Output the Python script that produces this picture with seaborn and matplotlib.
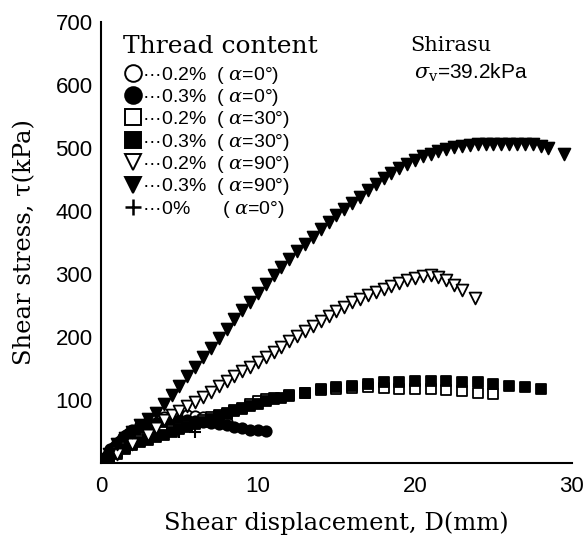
import matplotlib
matplotlib.use("Agg")
import matplotlib.pyplot as plt
from matplotlib.lines import Line2D
import seaborn as sns
import pandas as pd

# ---- data ----
x_c02_a0 = [0, 0.4, 0.8, 1.2, 1.6, 2.0, 2.5, 3.0, 3.5, 4.0, 4.5, 5.0, 5.5, 6.0, 6.5, 7.0, 7.5, 8.0]
y_c02_a0 = [0, 12, 25, 35, 44, 52, 60, 66, 70, 73, 75, 76, 76, 75, 73, 70, 68, 66]

x_c03_a0 = [0, 0.3, 0.6, 1.0, 1.4, 1.8, 2.2, 2.6, 3.0, 3.5, 4.0, 4.5, 5.0, 5.5, 6.0, 6.5, 7.0, 7.5, 8.0, 8.5, 9.0, 9.5, 10.0, 10.5]
y_c03_a0 = [0, 10, 22, 32, 41, 48, 53, 57, 60, 63, 65, 67, 68, 68, 67, 66, 64, 62, 60, 57, 55, 53, 52, 51]

x_c02_a30 = [0, 0.5, 1.0, 1.5, 2.0, 2.5, 3.0, 3.5, 4.0, 4.5, 5.0, 5.5, 6.0, 6.5, 7.0, 7.5, 8.0, 8.5, 9.0, 9.5, 10.0, 10.5, 11.0, 12.0, 13.0, 14.0, 15.0, 16.0, 17.0, 18.0, 19.0, 20.0, 21.0, 22.0, 23.0, 24.0, 25.0]
y_c02_a30 = [0, 10, 18, 25, 32, 37, 42, 46, 50, 53, 56, 59, 63, 68, 73, 77, 80, 84, 88, 93, 98, 101, 104, 108, 112, 116, 118, 119, 120, 119, 118, 118, 117, 116, 114, 112, 109]

x_c03_a30 = [0, 0.5, 1.0, 1.5, 2.0, 2.5, 3.0, 3.5, 4.0, 4.5, 5.0, 5.5, 6.0, 6.5, 7.0, 7.5, 8.0, 8.5, 9.0, 9.5, 10.0, 10.5, 11.0, 11.5, 12.0, 13.0, 14.0, 15.0, 16.0, 17.0, 18.0, 19.0, 20.0, 21.0, 22.0, 23.0, 24.0, 25.0, 26.0, 27.0, 28.0]
y_c03_a30 = [0, 8, 15, 22, 28, 33, 37, 41, 45, 50, 54, 58, 62, 66, 70, 74, 78, 82, 86, 90, 94, 98, 101, 104, 107, 112, 117, 120, 123, 126, 128, 129, 130, 130, 130, 129, 128, 126, 122, 120, 118]

x_c02_a90 = [0, 1.0, 2.0, 3.0, 3.5, 4.0, 4.5, 5.0, 5.5, 6.0, 6.5, 7.0, 7.5, 8.0, 8.5, 9.0, 9.5, 10.0, 10.5, 11.0, 11.5, 12.0, 12.5, 13.0, 13.5, 14.0, 14.5, 15.0, 15.5, 16.0, 16.5, 17.0, 17.5, 18.0, 18.5, 19.0, 19.5, 20.0, 20.5, 21.0, 21.5, 22.0, 22.5, 23.0, 23.8]
y_c02_a90 = [0, 15, 30, 45, 55, 68, 76, 82, 90, 97, 105, 113, 122, 130, 138, 146, 153, 160, 168, 176, 184, 193, 202, 210, 218, 226, 234, 242, 248, 255, 261, 266, 271, 276, 281, 286, 290, 294, 297, 299, 296, 290, 282, 275, 262]

x_c03_a90 = [0, 0.5, 1.0, 1.5, 2.0, 2.5, 3.0, 3.5, 4.0, 4.5, 5.0, 5.5, 6.0, 6.5, 7.0, 7.5, 8.0, 8.5, 9.0, 9.5, 10.0, 10.5, 11.0, 11.5, 12.0, 12.5, 13.0, 13.5, 14.0, 14.5, 15.0, 15.5, 16.0, 16.5, 17.0, 17.5, 18.0, 18.5, 19.0, 19.5, 20.0, 20.5, 21.0, 21.5, 22.0, 22.5, 23.0, 23.5, 24.0, 24.5, 25.0, 25.5, 26.0, 26.5, 27.0, 27.5, 28.0, 28.5, 29.5]
y_c03_a90 = [0, 15, 30, 40, 50, 60, 70, 80, 93, 108, 122, 138, 153, 168, 183, 198, 213, 228, 243, 256, 270, 285, 298, 311, 324, 336, 348, 359, 371, 382, 393, 403, 413, 423, 433, 443, 452, 460, 468, 475, 481, 487, 491, 495, 498, 501, 503, 505, 506, 506, 507, 507, 507, 507, 507, 506, 503, 500, 490]

x_c00_a0 = [0, 0.5, 1.0, 1.5, 2.0, 2.5, 3.0, 4.0, 5.0, 6.0]
y_c00_a0 = [0, 15, 25, 32, 38, 42, 45, 48, 50, 50]

legend_title = "Thread content"
legend_labels = ["···0.2%  ( $\\alpha$=0°)", "···0.3%  ( $\\alpha$=0°)",
                 "···0.2%  ( $\\alpha$=30°)", "···0.3%  ( $\\alpha$=30°)",
                 "···0.2%  ( $\\alpha$=90°)", "···0.3%  ( $\\alpha$=90°)",
                 "···0%      ( $\\alpha$=0°)"]

series = [
    (x_c02_a0, y_c02_a0, "o", "white", 7.5),
    (x_c03_a0, y_c03_a0, "o", "black", 7.5),
    (x_c02_a30, y_c02_a30, "s", "white", 7),
    (x_c03_a30, y_c03_a30, "s", "black", 7),
    (x_c02_a90, y_c02_a90, "v", "white", 8.5),
    (x_c03_a90, y_c03_a90, "v", "black", 8.5),
    (x_c00_a0, y_c00_a0, "+", "black", 8),
]

sns.set_style("white")
plt.rcParams['font.family'] = ['DejaVu Serif', 'DejaVu Sans']
plt.rcParams['mathtext.fontset'] = 'dejavuserif'
plt.rcParams['text.color'] = 'black'
plt.rcParams['axes.labelcolor'] = 'black'

fig = plt.figure(figsize=(5.85, 5.5), dpi=100)
ax = fig.add_axes([0.1726, 0.158, 0.805, 0.802])

draw_order = [6, 0, 1, 2, 3, 4, 5]
for i in draw_order:
    xs, ys, m, fc, ms = series[i]
    df = pd.DataFrame({"x": xs, "y": ys})
    if m == "+":
        sns.scatterplot(data=df, x="x", y="y", marker="+", color="black",
                        s=ms ** 2, linewidth=1.5, ax=ax, zorder=3)
    else:
        sns.scatterplot(data=df, x="x", y="y", marker=m, facecolor=fc,
                        edgecolor="black", s=ms ** 2, linewidth=1.3, ax=ax, zorder=3)

ax.set_xlim(0, 30)
ax.set_ylim(0, 700)
ax.set_xticks([0, 5, 10, 15, 20, 25, 30])
ax.set_xticklabels(["0", "", "10", "", "20", "", "30"])
ax.set_yticks([0, 100, 200, 300, 400, 500, 600, 700])
ax.set_yticklabels(["", "100", "200", "300", "400", "500", "600", "700"])
ax.tick_params(direction="in", length=4, width=1, colors="black", labelsize=16)
for lab in ax.get_xticklabels() + ax.get_yticklabels():
    lab.set_family(['Liberation Sans', 'DejaVu Sans'])
ax.tick_params(axis="x", pad=9)
ax.tick_params(axis="y", pad=6)

sns.despine(ax=ax)
for sp in ["left", "bottom"]:
    ax.spines[sp].set_color("black")
    ax.spines[sp].set_linewidth(1.5)

ax.set_xlabel("Shear displacement, D(mm)", fontsize=17.5, labelpad=11)
ax.set_ylabel("Shear stress, τ(kPa)", fontsize=17.5, labelpad=14)

handles = []
for xs, ys, m, fc, ms in series:
    if m == "+":
        handles.append(Line2D([], [], marker="+", color="black", linestyle="none",
                              markersize=12, markeredgewidth=1.8))
    else:
        handles.append(Line2D([], [], marker=m, markerfacecolor=fc, markeredgecolor="black",
                              linestyle="none", markersize=12, markeredgewidth=1.4))
leg = ax.legend(handles, legend_labels, title=legend_title, loc="upper left",
                bbox_to_anchor=(0.02, 1.0), frameon=False,
                prop={"family": ['Liberation Sans', 'DejaVu Sans'], "size": 14},
                title_fontproperties={"family": "DejaVu Serif", "size": 18},
                handletextpad=0.0, handlelength=1.0,
                labelspacing=0.07, borderaxespad=0.25)
leg._legend_box.align = "left"
leg._legend_box.sep = 5

fig.text(0.702, 0.918, "Shirasu", fontsize=15, family=['DejaVu Serif'],
         va="center", ha="left")
fig.text(0.707, 0.868, "$\\sigma_{\\rm v}$=39.2kPa", fontsize=15,
         family=['Liberation Sans', 'DejaVu Sans'], va="center", ha="left")

fig.savefig("out.png", dpi=100)
